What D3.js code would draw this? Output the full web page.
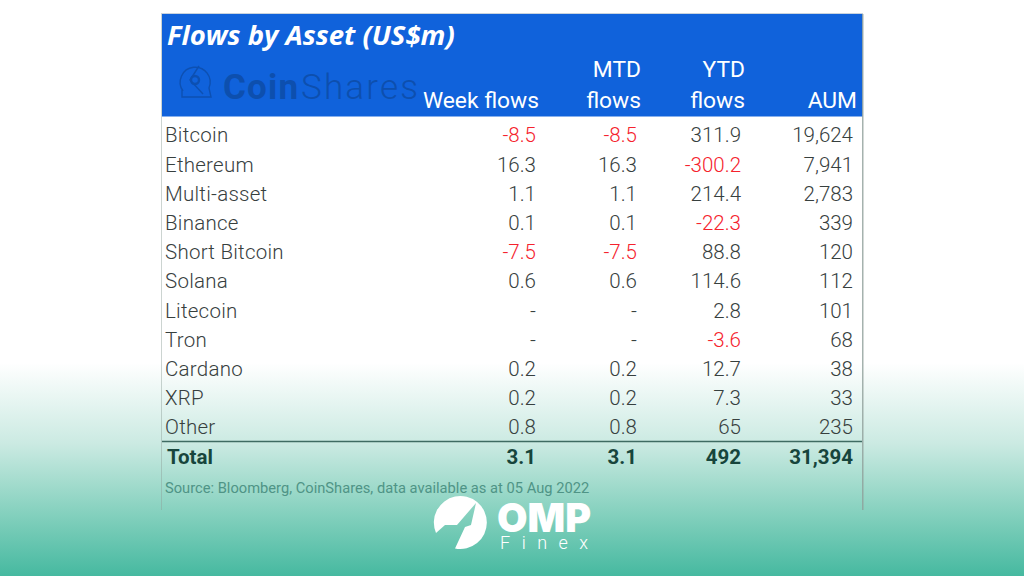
<!DOCTYPE html>
<html>
<head>
<meta charset="utf-8">
<script src="https://cdn.jsdelivr.net/npm/d3@7"></script>
<style>
  html, body { margin: 0; padding: 0; background: #fff; }
  svg { display: block; }
  text { font-family: Roboto, sans-serif; }
</style>
</head>
<body>
<svg id="chart" width="1024" height="576"></svg>
<script>
var assets = ['Bitcoin', 'Ethereum', 'Multi-asset', 'Binance', 'Short Bitcoin', 'Solana', 'Litecoin', 'Tron', 'Cardano', 'XRP', 'Other'];
var week_flows = [-8.5, 16.3, 1.1, 0.1, -7.5, 0.6, null, null, 0.2, 0.2, 0.8];
var mtd_flows = [-8.5, 16.3, 1.1, 0.1, -7.5, 0.6, null, null, 0.2, 0.2, 0.8];
var ytd_flows = [311.9, -300.2, 214.4, -22.3, 88.8, 114.6, 2.8, -3.6, 12.7, 7.3, 65];
var aum = [19624, 7941, 2783, 339, 120, 112, 101, 68, 38, 33, 235];
var total_row = ['Total', 3.1, 3.1, 492, 31394];
var columns = ['Week flows', 'MTD flows', 'YTD flows', 'AUM'];
var title = 'Flows by Asset (US$m)';
var source = 'Source: Bloomberg, CoinShares, data available as at 05 Aug 2022';

var svg = d3.select('#chart');
var defs = svg.append('defs');
var grad = defs.append('linearGradient').attr('id', 'bg').attr('x1', 0).attr('x2', 0).attr('y1', 0).attr('y2', 1);
grad.append('stop').attr('offset', 0.63).attr('stop-color', '#ffffff');
grad.append('stop').attr('offset', 0.77).attr('stop-color', '#cbeae2');
grad.append('stop').attr('offset', 0.88).attr('stop-color', '#8bd3c1');
grad.append('stop').attr('offset', 1).attr('stop-color', '#46b9a0');

svg.append('rect').attr('width', 1024).attr('height', 576).attr('fill', 'url(#bg)');

var rows = assets.concat(['Total']);
var y = d3.scaleBand().domain(rows).range([120.7, 471.2]).padding(0);
var x = d3.scaleOrdinal().domain(columns).range([536, 637, 741, 853]);

// table frame
svg.append('rect').attr('x', 162).attr('y', 14).attr('width', 700.5).attr('height', 102.5).attr('fill', '#1062db');
svg.append('line').attr('x1', 161).attr('x2', 863).attr('y1', 13.5).attr('y2', 13.5).attr('stroke', '#c9d3de');
svg.append('line').attr('x1', 161.5).attr('x2', 161.5).attr('y1', 14).attr('y2', 510).attr('stroke', '#8f9f9a').attr('stroke-opacity', 0.45);
svg.append('line').attr('x1', 862.8).attr('x2', 862.8).attr('y1', 14).attr('y2', 510).attr('stroke', '#8f9f9a').attr('stroke-width', 1.2);
svg.append('line').attr('x1', 162).attr('x2', 862).attr('y1', 441.5).attr('y2', 441.5).attr('stroke', '#3f6b62').attr('stroke-width', 1.6);

// coinshares watermark
var mark = svg.append('g').attr('fill', 'none').attr('stroke', '#0d50b2').attr('stroke-width', 1.4);
mark.append('path').attr('d', 'M183 91 A15 15 0 1 1 209 88 L211 97 L182 97 L182 90');
mark.append('circle').attr('cx', 195).attr('cy', 80).attr('r', 4).attr('stroke-width', 2.4);
mark.append('path').attr('d', 'M199 66 L190 80 L203 94');
svg.append('text').attr('x', 223).attr('y', 99).attr('font-size', 35).attr('font-weight', 700)
  .attr('fill', '#0d4fae').attr('letter-spacing', 1.2).text('Coin');
svg.append('text').attr('x', 301).attr('y', 99).attr('font-size', 35).attr('font-weight', 300)
  .attr('fill', '#0d4fae').attr('letter-spacing', 2.2).text('Shares');

// header
svg.append('text').attr('x', 167).attr('y', 45).style('font-family', '"Open Sans"').attr('font-size', 27.5)
  .attr('font-weight', 700).attr('font-style', 'italic').attr('fill', '#fff').text(title);

var header_lines = [['Week flows'], ['MTD', 'flows'], ['YTD', 'flows'], ['AUM']];
columns.forEach(function (c, i) {
  var lines = header_lines[i];
  lines.forEach(function (l, j) {
    svg.append('text').attr('class', 'head')
      .attr('x', x(c) + (i == 0 ? 3 : 4))
      .attr('y', 108 - (lines.length - 1 - j) * 31)
      .attr('text-anchor', 'end').attr('font-size', 22.8).attr('font-weight', 400)
      .attr('fill', '#fff').text(l);
  });
});

// body
function fmt(v) {
  if (v === null) return '-';
  return String(v);
}
var text_col = '#37403e';
var row_g = svg.selectAll('g.row').data(assets).join('g').attr('class', 'row')
  .attr('transform', function (d) { return 'translate(0,' + (y(d) + y.bandwidth() / 2 + 7) + ')'; });

row_g.append('text').attr('x', 165).attr('font-size', 20.5).attr('font-weight', 300)
  .attr('letter-spacing', 0.25).attr('fill', text_col).text(function (d) { return d; });

[week_flows, mtd_flows, ytd_flows].forEach(function (series, k) {
  row_g.append('text').attr('x', x(columns[k])).attr('text-anchor', 'end')
    .attr('font-size', 20.5).attr('font-weight', 300)
    .attr('fill', function (d, i) { return series[i] < 0 ? '#f5222d' : text_col; })
    .text(function (d, i) { return fmt(series[i]); });
});
row_g.append('text').attr('x', x('AUM')).attr('text-anchor', 'end')
  .attr('font-size', 20.5).attr('font-weight', 300).attr('fill', text_col)
  .text(function (d, i) { return d3.format(',')(aum[i]); });

// total row
var total_y = y('Total') + y.bandwidth() / 2 + 7;
total_row.forEach(function (v, i) {
  var label = i == 4 ? d3.format(',')(v) : String(v);
  svg.append('text').attr('x', i == 0 ? 167 : x(columns[i - 1])).attr('y', total_y)
    .attr('text-anchor', i == 0 ? 'start' : 'end').attr('font-size', 20.5).attr('font-weight', 700)
    .attr('fill', '#17453c').text(label);
});

svg.append('text').attr('x', 165).attr('y', 493).attr('font-size', 14.7).attr('fill', '#4f9486').text(source);

// omp finex logo
svg.append('path').attr('fill', '#fff')
  .attr('d', 'M436 533 A26.5 26.5 0 1 1 455 548.5 L465 527 L471 525 L476 503 L457 525 L445 525 Z');
svg.append('text').attr('x', 497).attr('y', 532).attr('font-size', 40).attr('font-weight', 900)
  .style('font-family', 'Inter').attr('textLength', 94).attr('lengthAdjust', 'spacingAndGlyphs')
  .attr('fill', '#fff').text('OMP');
svg.append('text').attr('x', 500).attr('y', 549).attr('font-size', 18).attr('font-weight', 300)
  .attr('letter-spacing', 11.5).attr('fill', '#fff').text('Finex');
</script>
</body>
</html>
